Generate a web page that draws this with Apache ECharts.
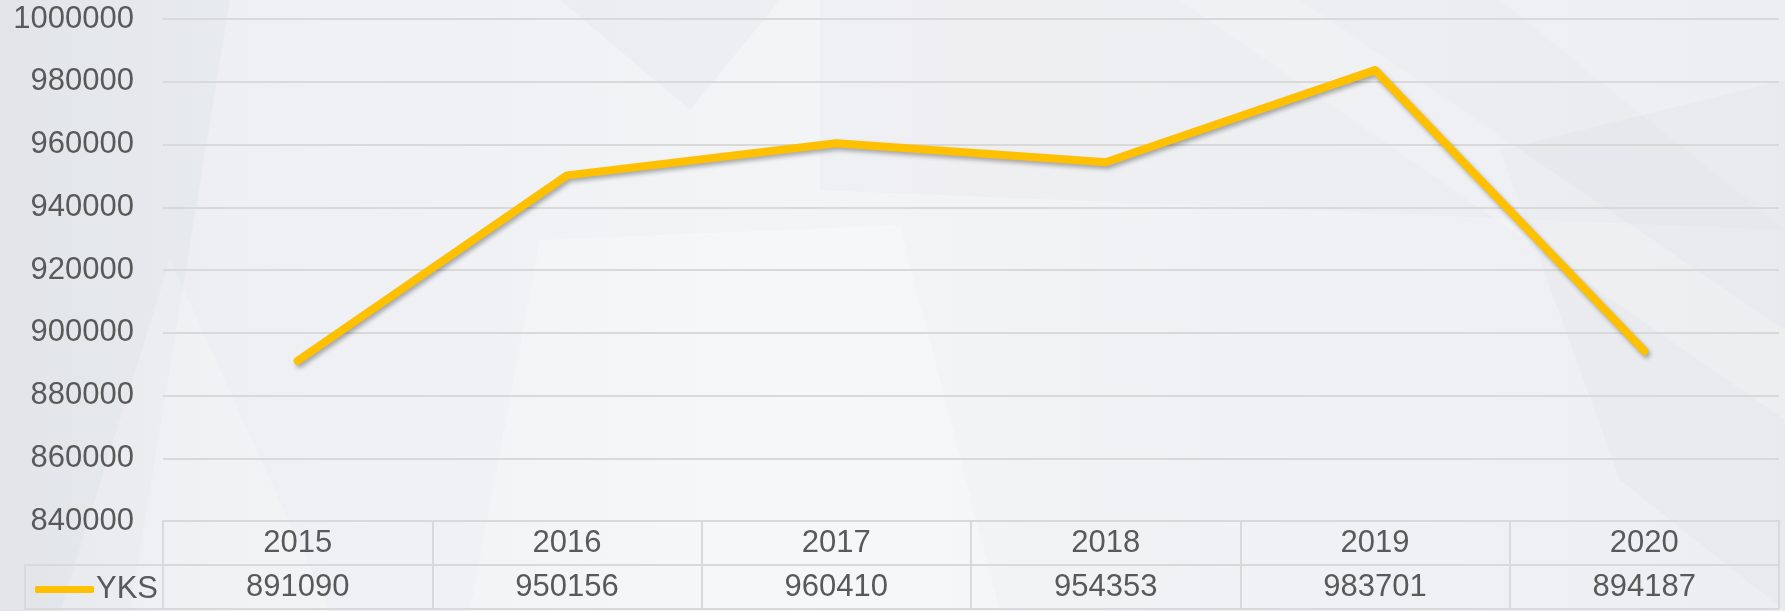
<!DOCTYPE html>
<html>

<head>
	<meta charset="UTF-8" />
	<title>YKS</title>
	<style>
		html, body { margin: 0; padding: 0; }
		#chart { width: 1785px; height: 611px; }
	</style>
	<script type="text/javascript" src="https://cdn.jsdelivr.net/npm/echarts@6/dist/echarts.min.js"></script>
</head>

<body>
	<div id="chart"></div>

	<script>
		// data
		var years = ["2015", "2016", "2017", "2018", "2019", "2020"];
		var yks = [891090, 950156, 960410, 954353, 983701, 894187];
		var seriesName = "YKS";

		// layout
		var W = 1785, H = 611;
		var gridLeft = 163, gridRight = 6, gridTop = 19, gridBottom = 90;
		var rowH = 44;
		var tableTop = H - gridBottom;
		var legendLeft = 25;
		var lineColor = "#D9D9D9";
		var textColor = "#595959";
		var fontSize = 31;
		var font = "'Liberation Sans', Arial, sans-serif";

		var myChart = echarts.init(document.getElementById("chart"));

		// faint facets in the background
		function facet(points, color) {
			return { type: "polygon", z: -10, silent: true, shape: { points: points }, style: { fill: color } };
		}

		var option = {
			backgroundColor: {
				type: "linear", x: 0, y: 0, x2: 1, y2: 0,
				colorStops: [
					{ offset: 0, color: "#E5E7EB" },
					{ offset: 0.12, color: "#EDEFF2" },
					{ offset: 0.45, color: "#F3F4F6" },
					{ offset: 1, color: "#EDEEF1" }
				]
			},
			textStyle: { fontFamily: font },
			graphic: [
				facet([[0, 0], [230, 0], [130, 611], [0, 611]], "rgba(215,218,224,0.2)"),
				facet([[560, 0], [780, 0], [690, 110]], "rgba(215,218,224,0.2)"),
				facet([[170, 260], [330, 611], [60, 611]], "rgba(255,255,255,0.2)"),
				facet([[820, 0], [1500, 0], [1785, 230], [820, 190]], "rgba(220,223,228,0.15)"),
				facet([[540, 240], [900, 225], [1000, 611], [470, 611]], "rgba(255,255,255,0.25)"),
				facet([[1500, 150], [1785, 80], [1785, 611], [1620, 480]], "rgba(215,218,224,0.2)"),
				facet([[1180, 0], [1300, 0], [1785, 330], [1785, 420]], "rgba(255,255,255,0.2)"),
				// table borders for the value row and legend cell
				{
					type: "polyline", z: 5, silent: true,
					shape: { points: [[W - gridRight, tableTop + rowH], [legendLeft, tableTop + rowH], [legendLeft, tableTop + 2 * rowH], [W - gridRight, tableTop + 2 * rowH]] },
					style: { stroke: lineColor, lineWidth: 2, fill: null }
				}
			],
			legend: {
				data: [seriesName],
				left: 30,
				top: tableTop + rowH + 4,
				icon: "roundRect",
				itemWidth: 59,
				itemHeight: 7,
				itemGap: 0,
				textStyle: { fontSize: fontSize, color: textColor, fontFamily: font, padding: [0, 0, 0, -3] }
			},
			grid: { left: gridLeft, right: gridRight, top: gridTop, bottom: gridBottom },
			xAxis: {
				type: "category",
				data: years,
				boundaryGap: true,
				axisLine: { show: true, lineStyle: { color: lineColor, width: 2 } },
				axisTick: { show: true, length: 2 * rowH, lineStyle: { color: lineColor, width: 2 } },
				axisLabel: {
					margin: 0,
					interval: 0,
					formatter: function (v, i) {
						return "{y|" + v + "}\n{v|" + yks[i] + "}";
					},
					rich: {
						y: { fontSize: fontSize, color: textColor, lineHeight: rowH, fontFamily: font },
						v: { fontSize: fontSize, color: textColor, lineHeight: rowH, fontFamily: font }
					}
				}
			},
			yAxis: {
				type: "value",
				min: 840000,
				max: 1000000,
				interval: 20000,
				axisLine: { show: false },
				axisTick: { show: false },
				axisLabel: {
					fontSize: fontSize, color: textColor, margin: 29, fontFamily: font,
					formatter: function (v) { return String(v); }
				},
				splitLine: { lineStyle: { color: lineColor, width: 2 } }
			},
			series: [{
				name: seriesName,
				type: "line",
				data: yks,
				symbol: "none",
				color: "#FFC000",
				lineStyle: {
					color: "#FFC000",
					width: 8,
					cap: "round",
					join: "round",
					shadowColor: "rgba(0,0,0,0.3)",
					shadowBlur: 4,
					shadowOffsetX: 2,
					shadowOffsetY: 3
				},
				z: 3
			}]
		};

		myChart.setOption(option);
	</script>
</body>

</html>
